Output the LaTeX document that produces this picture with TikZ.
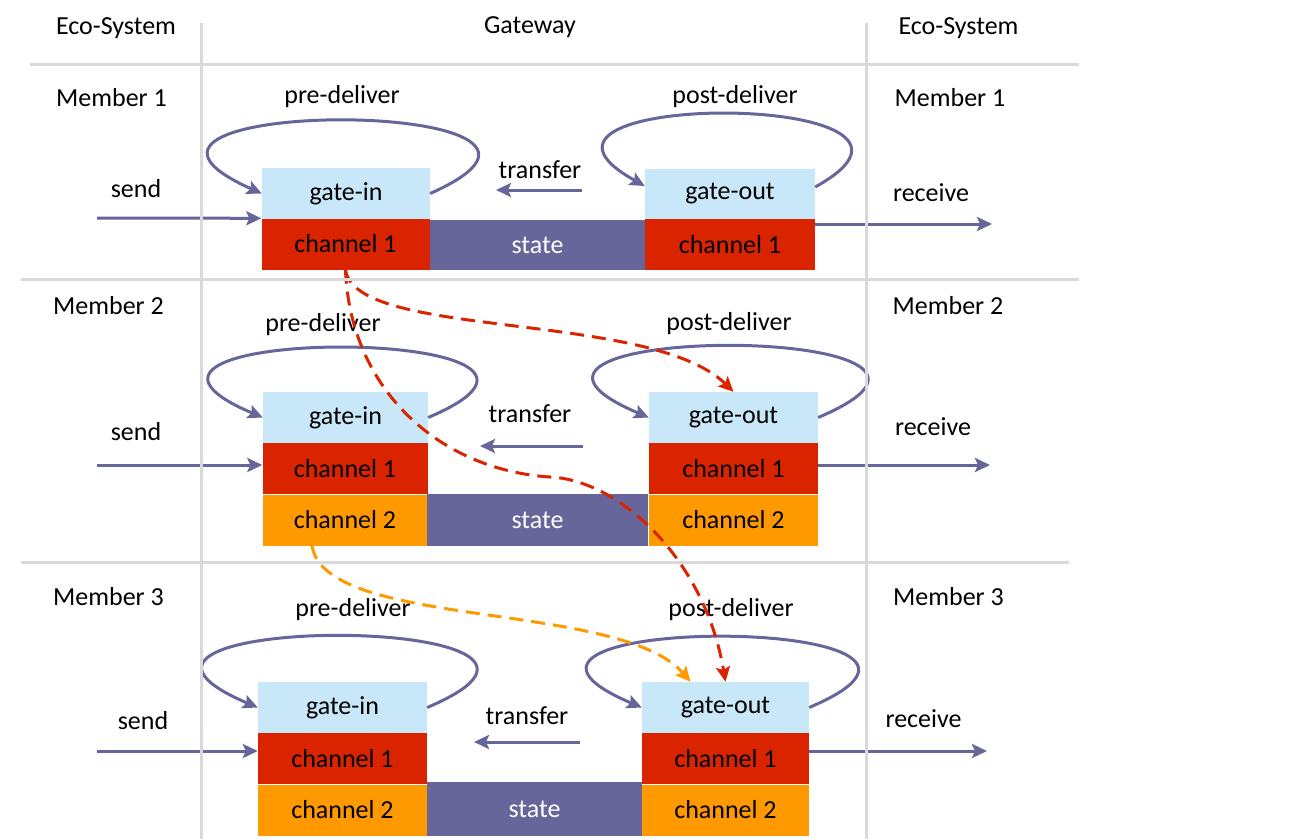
\documentclass[tikz,border=0pt]{standalone}
\usepackage{fontspec}
\setmainfont{Carlito}
\usetikzlibrary{arrows.meta}

\definecolor{gatecol}{HTML}{C8E7F8}
\definecolor{chonecol}{HTML}{DA2400}
\definecolor{chtwocol}{HTML}{FF9900}
\definecolor{statecol}{HTML}{66669A}
\definecolor{linecol}{HTML}{D9D9D9}

\begin{document}
\begin{tikzpicture}
  [x=1pt,y=1pt,
   every node/.style={font=\fontsize{26}{31}\selectfont},
   cell/.style={inner sep=0pt,minimum width=168pt,minimum height=51pt},
   gate/.style={cell,fill=gatecol},
   chone/.style={cell,fill=chonecol},
   chtwo/.style={cell,fill=chtwocol},
   statebox/.style={cell,fill=statecol,text=white},
   flow/.style={draw=statecol,line width=3pt,-{Stealth[length=15pt,width=14pt,inset=3pt]}},
   hop/.style={flow,draw=#1,dash pattern=on 14pt off 8pt},
   divider/.style={draw=linecol,line width=3pt}]
  \useasboundingbox (0,0) rectangle (1304,-839);

  % column heads and members
  \node (eco1) at (116,-28.5) {Eco-System};
  \node (gw) at (530,-27) {Gateway};
  \node (eco2) at (958.5,-28.5) {Eco-System};
  \node (m1l) at (111.5,-98) {Member 1};
  \node (m1r) at (950,-98) {Member 1};
  \node (m2l) at (108.5,-306) {Member 2};
  \node (m2r) at (948,-306) {Member 2};
  \node (m3l) at (108.5,-596.5) {Member 3};
  \node (m3r) at (948.5,-596.5) {Member 3};

  % member 1
  \node[gate] (gi1) at (346,-193.5) {gate-in};
  \node[chone] (ci11) at (345.5,-244) {channel 1};
  \node[statebox,minimum width=215pt,minimum height=50pt] (st1) at (537.5,-245) {state};
  \node[gate,minimum width=170pt] (go1) at (730,-194) {gate-out};
  \node[chone,minimum width=170pt] (co11) at (730,-244.5) {channel 1};
  \node (pre1) at (342,-97) {pre-deliver};
  \node (post1) at (735,-97) {post-deliver};
  \node (tr1) at (540,-170) {transfer};
  \node (snd1) at (136,-189) {send};
  \node (rcv1) at (931,-193) {receive};

  % member 2
  \node[gate,minimum width=165pt] (gi2) at (345.5,-417.5) {gate-in};
  \node[chone,minimum width=165pt] (ci21) at (345,-468.5) {channel 1};
  \node[chtwo,minimum width=165pt] (ci22) at (345,-520) {channel 2};
  \node[statebox,minimum width=221pt,minimum height=52pt] (st2) at (537.5,-520) {state};
  \node[gate,minimum width=169pt] (go2) at (733.5,-417.5) {gate-out};
  \node[chone,minimum width=169pt] (co21) at (733.5,-468.5) {channel 1};
  \node[chtwo,minimum width=169pt] (co22) at (733.5,-520) {channel 2};
  \node (pre2) at (323,-325) {pre-deliver};
  \node (post2) at (729,-324) {post-deliver};
  \node (tr2) at (530,-414) {transfer};
  \node (snd2) at (136,-432) {send};
  \node (rcv2) at (933,-427) {receive};

  % member 3
  \node[gate,minimum width=169pt] (gi3) at (342.5,-707.5) {gate-in};
  \node[chone,minimum width=169pt] (ci31) at (342.5,-758.5) {channel 1};
  \node[chtwo,minimum width=169pt] (ci32) at (342.5,-810) {channel 2};
  \node[statebox,minimum width=215pt,minimum height=54pt] (st3) at (534.5,-809) {state};
  \node[gate,minimum width=167pt] (go3) at (725.5,-707.5) {gate-out};
  \node[chone,minimum width=167pt] (co31) at (725.5,-758.5) {channel 1};
  \node[chtwo,minimum width=167pt] (co32) at (725.5,-810) {channel 2};
  \node (pre3) at (353,-610) {pre-deliver};
  \node (post3) at (731,-610) {post-deliver};
  \node (tr3) at (527,-716) {transfer};
  \node (snd3) at (143,-721) {send};
  \node (rcv3) at (923.5,-719) {receive};

  % send / receive / transfer
  \coordinate (s1) at (97,-218);
  \coordinate (s2) at (97,-465);
  \coordinate (s3) at (97,-751);
  \coordinate (r1) at (992,-224);
  \coordinate (r2) at (990,-465);
  \coordinate (r3) at (987,-751);
  \draw[flow] (s1) -- (ci11.north west);
  \draw[flow] (s2) -- (s2 -| ci21.west);
  \draw[flow] (s3) -- (s3 -| ci31.west);
  \draw[flow] (r1 -| co11.east) -- (r1);
  \draw[flow] (r2 -| co21.east) -- (r2);
  \draw[flow] (r3 -| co31.east) -- (r3);
  \coordinate (t1a) at (582,-190);
  \coordinate (t1b) at (496,-190);
  \coordinate (t2a) at (583,-446);
  \coordinate (t2b) at (480,-446);
  \coordinate (t3a) at (580,-742);
  \coordinate (t3b) at (474,-742);
  \foreach \from/\to in {t1a/t1b, t2a/t2b, t3a/t3b}
    \draw[flow] (\from) -- (\to);

  % deliver loops
  \draw[flow] (gi1.east) to[out=24,in=156,looseness=3.65] (gi1.west);
  \draw[flow] ([yshift=7]go1.east) to[out=29,in=151,looseness=3] ([yshift=8]go1.west);
  \foreach \n in {gi2, go2, gi3, go3}
    \draw[flow] (\n.east) to[out=23,in=157,looseness=3.7] (\n.west);

  % routed messages
  \draw[hop=chonecol] (ci11.south) .. controls (355,-340) and (650,-310) .. (go2.north);
  \draw[hop=chonecol] (ci11.south) .. controls (350,-390) and (440,-470) .. (550,-477)
    .. controls (620,-480) and (705,-560) .. (go3.north);
  \draw[hop=chtwocol] ([xshift=-33]ci22.south) .. controls (325,-630) and (620,-600) .. ([xshift=-35]go3.north);

  % lanes
  \draw[divider] (201,-23) -- (201,-839);
  \draw[divider] (866,-23) -- (866,-839);
  \draw[divider] (30,-64) -- (1079,-64);
  \draw[divider] (21,-279) -- (1079,-279);
  \draw[divider] (21,-562) -- (1069,-562);
\end{tikzpicture}
\end{document}
